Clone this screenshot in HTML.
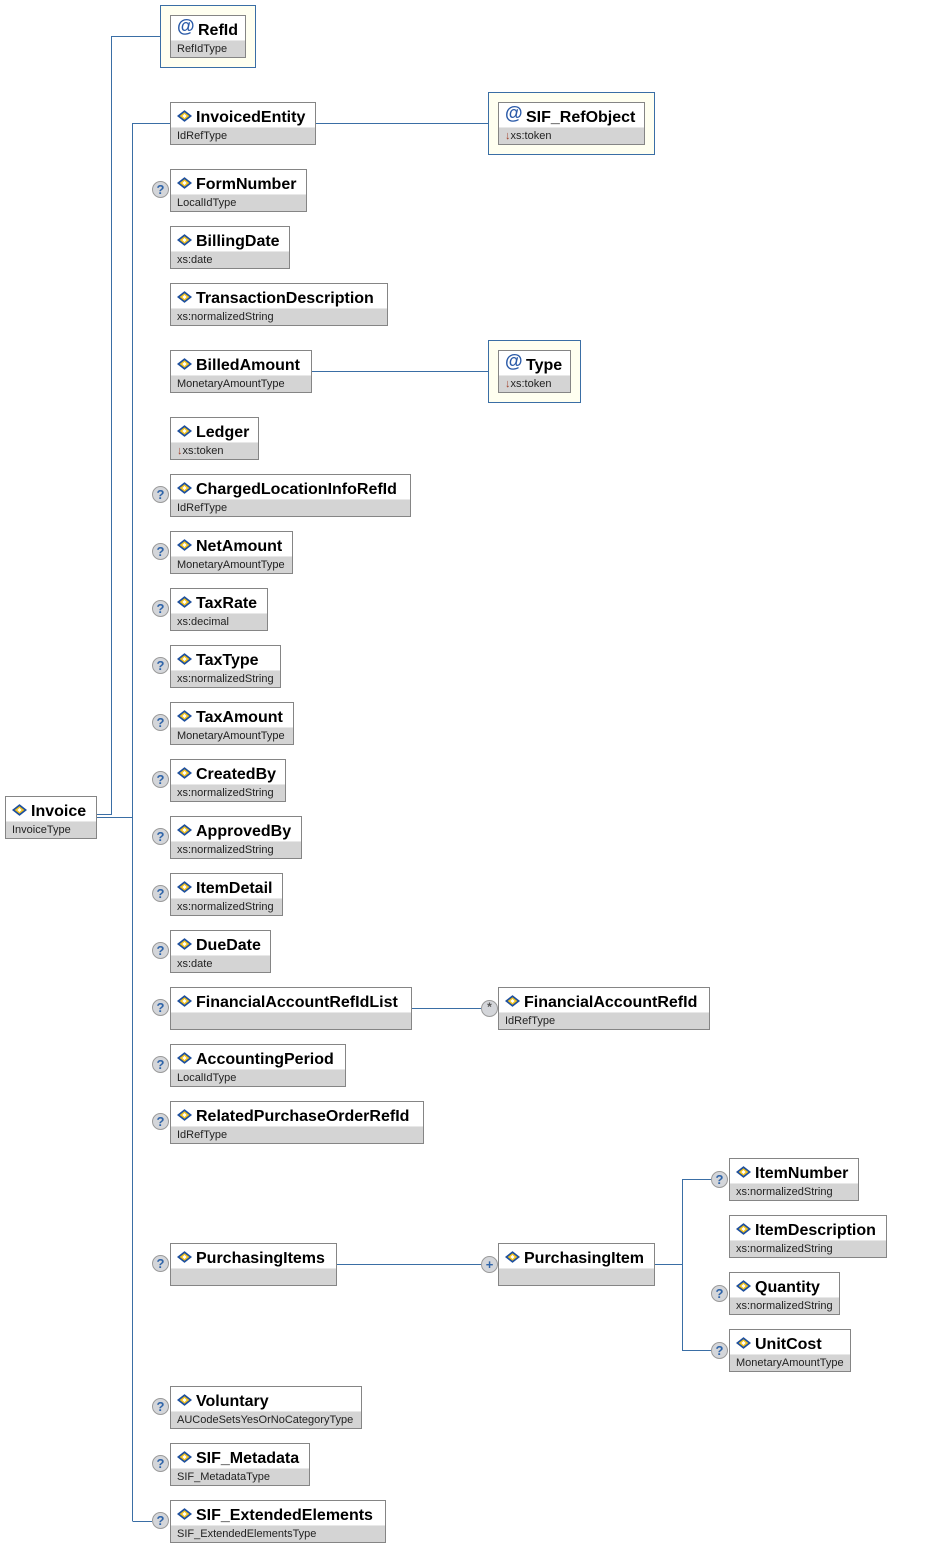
<!DOCTYPE html>
<html><head><meta charset="utf-8">
<style>
html,body{margin:0;padding:0;background:#fff;}
body{width:927px;height:1547px;position:relative;overflow:hidden;font-family:"Liberation Sans",Arial,sans-serif;}
.b{position:absolute;height:43px;border:1px solid #858585;box-sizing:border-box;background:#fff;}
.b .t{position:absolute;left:0;right:0;top:24px;height:17px;background:#d4d4d4;border-top:1px solid #e8e8e8;box-sizing:border-box;}
.b .n{position:absolute;left:25px;top:7px;font-size:16px;line-height:16px;font-weight:bold;color:#000;white-space:nowrap;}
.b .y{position:absolute;left:6px;top:28px;font-size:11px;line-height:11px;color:#222;white-space:nowrap;}
.b .ic{position:absolute;left:6px;top:7px;width:15px;height:12px;}
.b .at{position:absolute;left:6px;top:1px;font-size:18px;line-height:18px;color:#2a5aa8;font-weight:bold;}
.ar{color:#a0402a;}
.g{position:absolute;border:1px solid #3a6ea5;background:#fffff0;box-sizing:border-box;}
.q{position:absolute;width:17px;height:17px;border-radius:50%;background:#d4d6da;border:1px solid #9a9a9a;box-sizing:border-box;font-size:13px;line-height:15px;text-align:center;font-weight:bold;color:#2f64a8;}
svg.l{position:absolute;left:0;top:0;}
</style></head><body>
<svg class="l" width="927" height="1547" viewBox="0 0 927 1547">
<g stroke="#3a6ea5" stroke-width="1" fill="none" shape-rendering="crispEdges">
<path d="M96 814.5H111.5V36.5H160"/>
<path d="M96 817.5H132.5"/>
<path d="M132.5 123V1521"/>
<path d="M132.5 123.5H170"/>
<path d="M132.5 1521.5H152"/>
<path d="M315 123.5H488"/>
<path d="M311 371.5H488"/>
<path d="M411 1008.5H481"/>
<path d="M336 1264.5H481"/>
<path d="M654 1264.5H682.5"/>
<path d="M682.5 1179V1351"/>
<path d="M682.5 1179.5H711"/>
<path d="M682.5 1350.5H711"/>
</g>
<defs>
<g id="ei">
<polygon points="7,0 14,5.5 7,11 0,5.5" fill="#1d4f9e"/>
<polygon points="7,2 11.5,5.5 7,9 2.5,5.5" fill="#f2c21e"/>
<polygon points="7,3.5 9,5.5 7,7.5 5,5.5" fill="#ffffff"/>
</g>
</defs>
</svg>

<!-- Invoice -->
<div class="b" style="left:5px;top:796px;width:92px;"><svg class="ic" viewBox="0 0 14 11"><use href="#ei"/></svg><div class="n">Invoice</div><div class="t"></div><div class="y">InvoiceType</div></div>

<!-- RefId group -->
<div class="g" style="left:160px;top:5px;width:96px;height:63px;"></div>
<div class="b" style="left:170px;top:15px;width:76px;"><div class="at">@</div><div class="n" style="left:27px">RefId</div><div class="t"></div><div class="y">RefIdType</div></div>

<!-- InvoicedEntity -->
<div class="b" style="left:170px;top:102px;width:146px;"><svg class="ic" viewBox="0 0 14 11"><use href="#ei"/></svg><div class="n">InvoicedEntity</div><div class="t"></div><div class="y">IdRefType</div></div>
<div class="g" style="left:488px;top:92px;width:167px;height:63px;"></div>
<div class="b" style="left:498px;top:102px;width:147px;"><div class="at">@</div><div class="n" style="left:27px">SIF_RefObject</div><div class="t"></div><div class="y"><span class="ar">↓</span>xs:token</div></div>

<div class="q" style="left:152px;top:181px;">?</div>
<div class="b" style="left:170px;top:169px;width:137px;"><svg class="ic" viewBox="0 0 14 11"><use href="#ei"/></svg><div class="n">FormNumber</div><div class="t"></div><div class="y">LocalIdType</div></div>

<div class="b" style="left:170px;top:226px;width:120px;"><svg class="ic" viewBox="0 0 14 11"><use href="#ei"/></svg><div class="n">BillingDate</div><div class="t"></div><div class="y">xs:date</div></div>

<div class="b" style="left:170px;top:283px;width:218px;"><svg class="ic" viewBox="0 0 14 11"><use href="#ei"/></svg><div class="n">TransactionDescription</div><div class="t"></div><div class="y">xs:normalizedString</div></div>

<div class="b" style="left:170px;top:350px;width:142px;"><svg class="ic" viewBox="0 0 14 11"><use href="#ei"/></svg><div class="n">BilledAmount</div><div class="t"></div><div class="y">MonetaryAmountType</div></div>
<div class="g" style="left:488px;top:340px;width:93px;height:63px;"></div>
<div class="b" style="left:498px;top:350px;width:73px;"><div class="at">@</div><div class="n" style="left:27px">Type</div><div class="t"></div><div class="y"><span class="ar">↓</span>xs:token</div></div>

<div class="b" style="left:170px;top:417px;width:89px;"><svg class="ic" viewBox="0 0 14 11"><use href="#ei"/></svg><div class="n">Ledger</div><div class="t"></div><div class="y"><span class="ar">↓</span>xs:token</div></div>

<div class="q" style="left:152px;top:486px;">?</div>
<div class="b" style="left:170px;top:474px;width:241px;"><svg class="ic" viewBox="0 0 14 11"><use href="#ei"/></svg><div class="n">ChargedLocationInfoRefId</div><div class="t"></div><div class="y">IdRefType</div></div>

<div class="q" style="left:152px;top:543px;">?</div>
<div class="b" style="left:170px;top:531px;width:123px;"><svg class="ic" viewBox="0 0 14 11"><use href="#ei"/></svg><div class="n">NetAmount</div><div class="t"></div><div class="y">MonetaryAmountType</div></div>

<div class="q" style="left:152px;top:600px;">?</div>
<div class="b" style="left:170px;top:588px;width:98px;"><svg class="ic" viewBox="0 0 14 11"><use href="#ei"/></svg><div class="n">TaxRate</div><div class="t"></div><div class="y">xs:decimal</div></div>

<div class="q" style="left:152px;top:657px;">?</div>
<div class="b" style="left:170px;top:645px;width:111px;"><svg class="ic" viewBox="0 0 14 11"><use href="#ei"/></svg><div class="n">TaxType</div><div class="t"></div><div class="y">xs:normalizedString</div></div>

<div class="q" style="left:152px;top:714px;">?</div>
<div class="b" style="left:170px;top:702px;width:124px;"><svg class="ic" viewBox="0 0 14 11"><use href="#ei"/></svg><div class="n">TaxAmount</div><div class="t"></div><div class="y">MonetaryAmountType</div></div>

<div class="q" style="left:152px;top:771px;">?</div>
<div class="b" style="left:170px;top:759px;width:116px;"><svg class="ic" viewBox="0 0 14 11"><use href="#ei"/></svg><div class="n">CreatedBy</div><div class="t"></div><div class="y">xs:normalizedString</div></div>

<div class="q" style="left:152px;top:828px;">?</div>
<div class="b" style="left:170px;top:816px;width:132px;"><svg class="ic" viewBox="0 0 14 11"><use href="#ei"/></svg><div class="n">ApprovedBy</div><div class="t"></div><div class="y">xs:normalizedString</div></div>

<div class="q" style="left:152px;top:885px;">?</div>
<div class="b" style="left:170px;top:873px;width:113px;"><svg class="ic" viewBox="0 0 14 11"><use href="#ei"/></svg><div class="n">ItemDetail</div><div class="t"></div><div class="y">xs:normalizedString</div></div>

<div class="q" style="left:152px;top:942px;">?</div>
<div class="b" style="left:170px;top:930px;width:101px;"><svg class="ic" viewBox="0 0 14 11"><use href="#ei"/></svg><div class="n">DueDate</div><div class="t"></div><div class="y">xs:date</div></div>

<div class="q" style="left:152px;top:999px;">?</div>
<div class="b" style="left:170px;top:987px;width:242px;"><svg class="ic" viewBox="0 0 14 11"><use href="#ei"/></svg><div class="n">FinancialAccountRefIdList</div><div class="t"></div></div>
<div class="q" style="left:481px;top:1000px;font-size:12px;line-height:13px;color:#555;">*</div>
<div class="b" style="left:498px;top:987px;width:212px;"><svg class="ic" viewBox="0 0 14 11"><use href="#ei"/></svg><div class="n">FinancialAccountRefId</div><div class="t"></div><div class="y">IdRefType</div></div>

<div class="q" style="left:152px;top:1056px;">?</div>
<div class="b" style="left:170px;top:1044px;width:176px;"><svg class="ic" viewBox="0 0 14 11"><use href="#ei"/></svg><div class="n">AccountingPeriod</div><div class="t"></div><div class="y">LocalIdType</div></div>

<div class="q" style="left:152px;top:1113px;">?</div>
<div class="b" style="left:170px;top:1101px;width:254px;"><svg class="ic" viewBox="0 0 14 11"><use href="#ei"/></svg><div class="n">RelatedPurchaseOrderRefId</div><div class="t"></div><div class="y">IdRefType</div></div>

<div class="q" style="left:152px;top:1255px;">?</div>
<div class="b" style="left:170px;top:1243px;width:167px;"><svg class="ic" viewBox="0 0 14 11"><use href="#ei"/></svg><div class="n">PurchasingItems</div><div class="t"></div></div>
<div class="q" style="left:481px;top:1256px;">+</div>
<div class="b" style="left:498px;top:1243px;width:157px;"><svg class="ic" viewBox="0 0 14 11"><use href="#ei"/></svg><div class="n">PurchasingItem</div><div class="t"></div></div>

<div class="q" style="left:711px;top:1171px;">?</div>
<div class="b" style="left:729px;top:1158px;width:130px;"><svg class="ic" viewBox="0 0 14 11"><use href="#ei"/></svg><div class="n">ItemNumber</div><div class="t"></div><div class="y">xs:normalizedString</div></div>

<div class="b" style="left:729px;top:1215px;width:158px;"><svg class="ic" viewBox="0 0 14 11"><use href="#ei"/></svg><div class="n">ItemDescription</div><div class="t"></div><div class="y">xs:normalizedString</div></div>

<div class="q" style="left:711px;top:1285px;">?</div>
<div class="b" style="left:729px;top:1272px;width:111px;"><svg class="ic" viewBox="0 0 14 11"><use href="#ei"/></svg><div class="n">Quantity</div><div class="t"></div><div class="y">xs:normalizedString</div></div>

<div class="q" style="left:711px;top:1342px;">?</div>
<div class="b" style="left:729px;top:1329px;width:122px;"><svg class="ic" viewBox="0 0 14 11"><use href="#ei"/></svg><div class="n">UnitCost</div><div class="t"></div><div class="y">MonetaryAmountType</div></div>

<div class="q" style="left:152px;top:1398px;">?</div>
<div class="b" style="left:170px;top:1386px;width:192px;"><svg class="ic" viewBox="0 0 14 11"><use href="#ei"/></svg><div class="n">Voluntary</div><div class="t"></div><div class="y">AUCodeSetsYesOrNoCategoryType</div></div>

<div class="q" style="left:152px;top:1455px;">?</div>
<div class="b" style="left:170px;top:1443px;width:140px;"><svg class="ic" viewBox="0 0 14 11"><use href="#ei"/></svg><div class="n">SIF_Metadata</div><div class="t"></div><div class="y">SIF_MetadataType</div></div>

<div class="q" style="left:152px;top:1512px;">?</div>
<div class="b" style="left:170px;top:1500px;width:216px;"><svg class="ic" viewBox="0 0 14 11"><use href="#ei"/></svg><div class="n">SIF_ExtendedElements</div><div class="t"></div><div class="y">SIF_ExtendedElementsType</div></div>

</body></html>
